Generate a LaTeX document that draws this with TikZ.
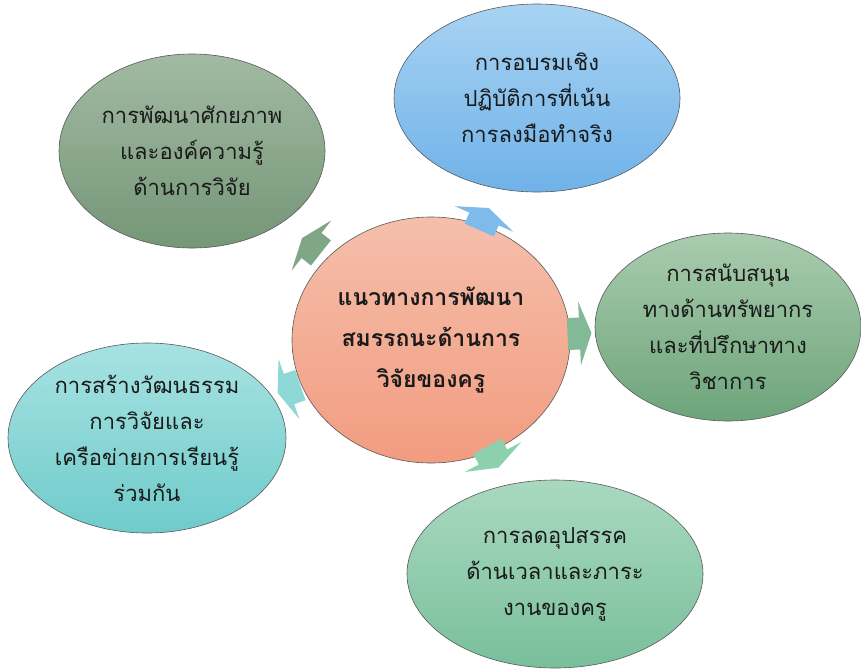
\documentclass[tikz,border=0pt]{standalone}
\usepackage{fontspec}
\newfontfamily\thaifont[Script=Thai]{Loma}
\usetikzlibrary{shapes.geometric,calc}

\definecolor{hubtop}{HTML}{F5BFAB}
\definecolor{hubbot}{HTML}{F29C80}
\definecolor{sagetop}{HTML}{A2BAA3}
\definecolor{sagebot}{HTML}{759677}
\definecolor{skytop}{HTML}{A8D3F3}
\definecolor{skybot}{HTML}{6FB2E8}
\definecolor{leaftop}{HTML}{A9CCAE}
\definecolor{leafbot}{HTML}{6DA47A}
\definecolor{aquatop}{HTML}{A8E2E2}
\definecolor{aquabot}{HTML}{6FCBCB}
\definecolor{minttop}{HTML}{A9D9C0}
\definecolor{mintbot}{HTML}{79BF9B}
\definecolor{inktext}{HTML}{1A1A1A}
\definecolor{sagearrow}{HTML}{7FA686}
\definecolor{skyarrow}{HTML}{7DBBEB}
\definecolor{leafarrow}{HTML}{82BA97}
\definecolor{mintarrow}{HTML}{8DD0AE}
\definecolor{aquaarrow}{HTML}{8ED8D8}

\tikzset{
  bubble/.style={ellipse, draw=black!65, line width=0.6pt, align=center,
    text=inktext, font=\thaifont\fontsize{22}{36}\selectfont, inner sep=0pt},
  hubble/.style={bubble, font=\thaifont\bfseries\fontsize{23}{41}\selectfont}
}

\begin{document}
\begin{tikzpicture}[x=1pt, y=-1pt]
\useasboundingbox (0,0) rectangle (861,670);

\node[hubble, minimum width=278pt, minimum height=246pt, top color=hubtop, bottom color=hubbot]
  (hub) at (431,340) {แนวทางการพัฒนา\\สมรรถนะด้านการ\\วิจัยของครู};

\node[bubble, minimum width=266pt, minimum height=194pt, top color=sagetop, bottom color=sagebot]
  (skill) at (192,151) {การพัฒนาศักยภาพ\\และองค์ความรู้\\ด้านการวิจัย};
\node[bubble, minimum width=286pt, minimum height=188pt, top color=skytop, bottom color=skybot]
  (train) at (537,98) {การอบรมเชิง\\ปฏิบัติการที่เน้น\\การลงมือทำจริง};
\node[bubble, minimum width=266pt, minimum height=188pt, top color=leaftop, bottom color=leafbot]
  (support) at (728,327) {การสนับสนุน\\ทางด้านทรัพยากร\\และที่ปรึกษาทาง\\วิชาการ};
\node[bubble, minimum width=278pt, minimum height=190pt, top color=aquatop, bottom color=aquabot]
  (culture) at (147,438) {การสร้างวัฒนธรรม\\การวิจัยและ\\เครือข่ายการเรียนรู้\\ร่วมกัน};
\node[bubble, minimum width=296pt, minimum height=188pt, top color=minttop, bottom color=mintbot]
  (burden) at (555,574) {การลดอุปสรรค\\ด้านเวลาและภาระ\\งานของครู};

% block arrows from the hub out to each bubble
\foreach \s/\c in {skill/sagearrow, train/skyarrow, support/leafarrow, burden/mintarrow, culture/aquaarrow}{
  \pgfmathanglebetweenpoints{\pgfpointanchor{hub}{center}}{\pgfpointanchor{\s}{center}}
  \let\ang\pgfmathresult
  \begin{scope}[shift={($(hub)!.5!(\s)$)}, rotate=\ang]
    \fill[\c] (-12,-16) -- (0,-16) -- (0,-32) -- (12,0) -- (0,32) -- (0,16) -- (-12,16) -- cycle;
  \end{scope}
}

\end{tikzpicture}
\end{document}
